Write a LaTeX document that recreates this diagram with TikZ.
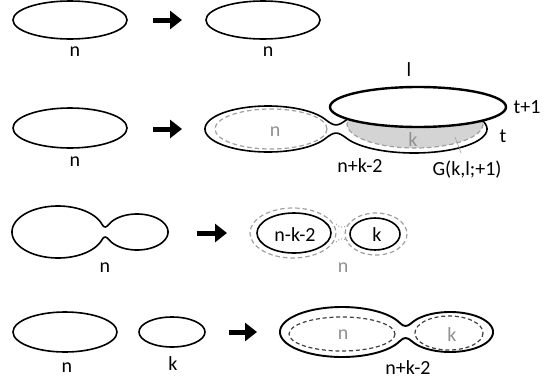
\documentclass[tikz,border=0pt]{standalone}
\usepackage{fontspec}
\setmainfont{Carlito}
\usetikzlibrary{arrows.meta}
\definecolor{lgtext}{RGB}{145,145,145}
\definecolor{lgline}{RGB}{160,160,160}
\definecolor{lgfill}{RGB}{212,212,212}
\newcommand\neckg{5}
\newcommand\peanut[9][]{%
 \pgfmathsetmacro\pdy{#5*sin(#6)}%
 \pgfmathsetmacro\pb{asin(\pdy/#9)}%
 \pgfmathsetmacro\pxl{#2+#4*cos(#6)}%
 \pgfmathsetmacro\pxr{#7-#8*cos(\pb)}%
 \pgfmathsetmacro\pyt{#3-\pdy}%
 \pgfmathsetmacro\pyb{#3+\pdy}%
 \pgfmathsetmacro\tlx{#4*sin(#6)}%
 \pgfmathsetmacro\tly{#5*cos(#6)}%
 \pgfmathsetmacro\tln{veclen(\tlx,\tly)}%
 \pgfmathsetmacro\tlx{\tlx/\tln}%
 \pgfmathsetmacro\tly{\tly/\tln}%
 \pgfmathsetmacro\trx{#8*sin(\pb)}%
 \pgfmathsetmacro\try{#9*cos(\pb)}%
 \pgfmathsetmacro\trn{veclen(\trx,\try)}%
 \pgfmathsetmacro\trx{\trx/\trn}%
 \pgfmathsetmacro\try{\try/\trn}%
 \pgfmathsetmacro\pLa{8*(\pdy-\neckg)/(3*(\tly+\try))}%
 \pgfmathsetmacro\pLb{0.45*(\pxr-\pxl)/max(\tlx,\trx)}%
 \pgfmathsetmacro\pL{min(\pLa,\pLb)}%
 \pgfmathsetmacro\cax{\pxl+\pL*\tlx}%
 \pgfmathsetmacro\cay{\pyt+\pL*\tly}%
 \pgfmathsetmacro\cbx{\pxr-\pL*\trx}%
 \pgfmathsetmacro\cby{\pyt+\pL*\try}%
 \pgfmathsetmacro\cdy{\pyb-\pL*\try}%
 \pgfmathsetmacro\cey{\pyb-\pL*\tly}%
 \pgfmathsetmacro\pbs{180+\pb}%
 \pgfmathsetmacro\pbe{540-\pb}%
 \pgfmathsetmacro\pae{360-#6}%
 \draw[#1] plot[domain=#6:\pae,samples=140] ({#2+#4*cos(\x)},{#3+#5*sin(\x)})
   .. controls (\cax,\cay) and (\cbx,\cby) .. (\pxr,\pyt)
   -- plot[domain=\pbs:\pbe,samples=140] ({#7+#8*cos(\x)},{#3+#9*sin(\x)})
   .. controls (\cbx,\cdy) and (\cax,\cey) .. cycle;
}
\tikzset{
  lbl/.style={font=\fontsize{20}{24}\selectfont, inner sep=0pt},
  glbl/.style={lbl, text=lgtext},
  loop/.style={line width=1.6pt, black},
  thickloop/.style={line width=2.4pt, black},
  gdash/.style={lgline, line width=1.2pt, dash pattern=on 4.5pt off 3pt},
  kdash/.style={black!75, line width=1.2pt, dash pattern=on 4pt off 2.8pt},
  gdot/.style={lgline, line width=1pt, dotted},
  bigarrow/.style={line width=5pt, -{Triangle[length=12pt,width=18pt]}}
}
\begin{document}
\begin{tikzpicture}[x=1pt,y=-1pt]
\fill[white] (0,0) rectangle (551,383);
\useasboundingbox (0,0) rectangle (551,383);

% ---------- row 1 ----------
\draw[loop] (70,20) ellipse [x radius=57, y radius=19];
\node[lbl] (r1n) at (75,52) {n};
\coordinate (a1s) at (153,20);
\coordinate (a1e) at (182,20);
\draw[bigarrow] (a1s) -- (a1e);
\draw[loop] (263,20) ellipse [x radius=57, y radius=19];
\node[lbl] (r1m) at (268,52) {n};

% ---------- row 2 ----------
\draw[loop] (70,128) ellipse [x radius=57, y radius=20];
\node[lbl] (r2n) at (75,162) {n};
\coordinate (a2s) at (153,129);
\coordinate (a2e) at (182,129);
\draw[bigarrow] (a2s) -- (a2e);

\draw[gdash] (271,129) ellipse [x radius=56, y radius=20];
\node[glbl] (r2gn) at (275,132) {n};
\renewcommand\neckg{4}
\peanut[loop]{268}{129}{63}{23}{25}{414}{73}{24}
\fill[lgfill] (415,124) ellipse [x radius=68, y radius=24];
\draw[gdash] (415,124) ellipse [x radius=68, y radius=24];
\node[glbl] (r2gk) at (413,140) {k};
\draw[thickloop, fill=white] (418,107) ellipse [x radius=88, y radius=20];
\node[lbl] (r2l) at (409,70) {l};
\node[lbl] (r2t1) at (527,107) {t+1};
\node[lbl] (r2t) at (503,136) {t};
\node[lbl] (r2nk) at (360,166) {n+k-2};
\node[lbl] (r2G) at (467,170) {G(k,l;+1)};
\coordinate (r2p1) at (461,153);
\coordinate (r2p2) at (455,137);
\draw[lgline, line width=0.6pt] (r2p1) -- (r2p2);

% ---------- row 3 ----------
\renewcommand\neckg{5}
\peanut[loop]{58}{232}{46}{26}{18}{137}{31}{18}
\node[lbl] (r3n) at (105,268) {n};
\coordinate (a3s) at (197,233);
\coordinate (a3e) at (227,233);
\draw[bigarrow] (a3s) -- (a3e);

\draw[gdash] (293,233) ellipse [x radius=43, y radius=25];
\draw[gdash] (376,234) ellipse [x radius=31, y radius=21];
\draw[gdot] (336,224) .. controls (340,228) and (344,228) .. (348,225);
\draw[gdot] (336,242) .. controls (340,238) and (344,238) .. (348,241);
\draw[loop] (294,233) ellipse [x radius=37, y radius=20];
\node[lbl] (r3a) at (295,235) {n-k-2};
\draw[loop] (375,234) ellipse [x radius=25, y radius=16];
\node[lbl] (r3b) at (377,235) {k};
\node[glbl] (r3gn) at (343,268) {n};

% ---------- row 4 ----------
\draw[loop] (65,332) ellipse [x radius=52, y radius=20];
\node[lbl] (r4n) at (67,368) {n};
\draw[loop] (172,332) ellipse [x radius=33, y radius=15];
\node[lbl] (r4k) at (173,364) {k};
\coordinate (a4s) at (229,332);
\coordinate (a4e) at (257,332);
\draw[bigarrow] (a4s) -- (a4e);

\renewcommand\neckg{6}
\peanut[line width=1.9pt]{342}{332}{62}{25}{22}{450}{43}{20}
\draw[kdash] (342,334) ellipse [x radius=53, y radius=17];
\draw[kdash] (449,333) ellipse [x radius=34, y radius=17];
\node[glbl] (r4gn) at (343,335) {n};
\node[glbl] (r4gk) at (452,335) {k};
\node[lbl] (r4nk) at (408,368) {n+k-2};
\end{tikzpicture}
\end{document}
